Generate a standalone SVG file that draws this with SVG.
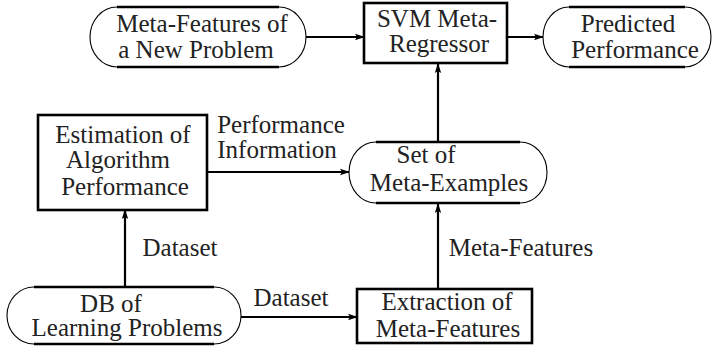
<svg xmlns="http://www.w3.org/2000/svg" width="712" height="348" viewBox="0 0 712 348">
<style>
.t{font-family:'Liberation Serif',serif;font-size:25px;fill:#222;text-anchor:middle}
.arc{fill:#fff;stroke:#000;stroke-width:1.1}
.edge{stroke:#000;stroke-width:2.4;fill:none}
.box{fill:#fff;stroke:#000;stroke-width:2.6}
.conn{stroke:#000;stroke-width:2.2;fill:none;marker-end:url(#ah)}
</style>
<defs>
<marker id="ah" markerUnits="userSpaceOnUse" markerWidth="10" markerHeight="8" refX="9" refY="4" orient="auto">
<path d="M0,0.8 L10,4 L0,7.2 L2,4 Z" fill="#000"/>
</marker>
</defs>
<g id="connectors">
<line class="conn" x1="306" y1="37" x2="364" y2="37"/>
<line class="conn" x1="507" y1="37" x2="543" y2="37"/>
<line class="conn" x1="207" y1="172" x2="349" y2="172"/>
<line class="conn" x1="438" y1="142" x2="438" y2="64"/>
<line class="conn" x1="125" y1="287" x2="125" y2="210"/>
<line class="conn" x1="241" y1="317" x2="357" y2="317"/>
<line class="conn" x1="438" y1="289" x2="438" y2="204"/>
<text class="t" x="281" y="133">Performance</text>
<text class="t" x="277" y="158">Information</text>
<text class="t" x="180" y="256">Dataset</text>
<text class="t" x="291" y="306">Dataset</text>
<text class="t" x="521" y="256">Meta-Features</text>
</g>
<g id="new-problem">
<rect class="arc" x="90" y="7" width="216" height="60" rx="27" ry="30"/>
<line class="edge" x1="117" y1="7" x2="279" y2="7"/>
<line class="edge" x1="117" y1="67" x2="279" y2="67"/>
<text class="t" x="202" y="32">Meta-Features of</text>
<text class="t" x="196" y="58">a New Problem</text>
</g>
<g id="svm">
<rect class="box" x="364" y="3" width="143" height="60"/>
<text class="t" x="437" y="27">SVM Meta-</text>
<text class="t" x="439" y="52">Regressor</text>
</g>
<g id="predicted">
<rect class="arc" x="543" y="7" width="168" height="60" rx="26" ry="30"/>
<line class="edge" x1="569" y1="7" x2="685" y2="7"/>
<line class="edge" x1="569" y1="67" x2="685" y2="67"/>
<text class="t" x="628" y="32">Predicted</text>
<text class="t" x="635" y="58">Performance</text>
</g>
<g id="estimation">
<rect class="box" x="38" y="115" width="169" height="95"/>
<text class="t" x="123" y="143">Estimation of</text>
<text class="t" x="118" y="168">Algorithm</text>
<text class="t" x="125" y="195">Performance</text>
</g>
<g id="meta-examples">
<rect class="arc" x="349" y="142" width="198" height="61" rx="27" ry="30.5"/>
<line class="edge" x1="376" y1="142" x2="520" y2="142"/>
<line class="edge" x1="376" y1="203" x2="520" y2="203"/>
<text class="t" x="426" y="163">Set of</text>
<text class="t" x="449" y="191">Meta-Examples</text>
</g>
<g id="db">
<rect class="arc" x="7" y="287" width="234" height="57" rx="27" ry="28.5"/>
<line class="edge" x1="34" y1="287" x2="214" y2="287"/>
<line class="edge" x1="34" y1="344" x2="214" y2="344"/>
<text class="t" x="111" y="312">DB of</text>
<text class="t" x="127" y="336">Learning Problems</text>
</g>
<g id="extraction">
<rect class="box" x="357" y="289" width="175" height="54"/>
<text class="t" x="447" y="310">Extraction of</text>
<text class="t" x="448" y="337">Meta-Features</text>
</g>
</svg>
